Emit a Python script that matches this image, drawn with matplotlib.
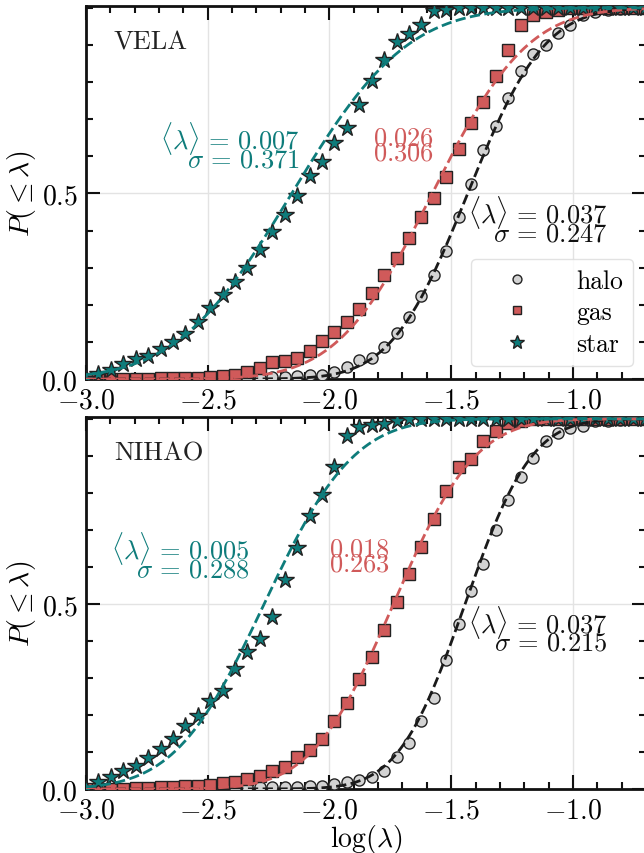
import math
import numpy as np
import matplotlib
matplotlib.use('Agg')
import matplotlib.pyplot as plt
from matplotlib.ticker import MultipleLocator

plt.rcParams['font.family'] = 'serif'
plt.rcParams['font.serif'] = ['cmr10']
plt.rcParams['mathtext.fontset'] = 'cm'
plt.rcParams['axes.formatter.use_mathtext'] = True
plt.rcParams['axes.unicode_minus'] = True

# bins in log(lambda)
log_bins = np.linspace(-3.0, -0.5, 50)[:46]

# VELA cumulative fractions
vela_halo = [0.0] * 13 + [0.002, 0.003, 0.005, 0.006, 0.008, 0.010, 0.011, 0.018, 0.032,
             0.051, 0.058, 0.087, 0.123, 0.166, 0.225, 0.281, 0.346, 0.436, 0.526,
             0.616, 0.681, 0.757, 0.829, 0.877, 0.901, 0.933, 0.955, 0.980, 0.990,
             0.995, 0.997, 1.0, 1.0]
vela_gas = [0.0] * 6 + [0.002, 0.002, 0.004, 0.004, 0.006, 0.009, 0.011, 0.020, 0.029,
            0.045, 0.049, 0.056, 0.076, 0.103, 0.128, 0.155, 0.189, 0.231, 0.279,
            0.326, 0.380, 0.436, 0.488, 0.544, 0.619, 0.690, 0.746, 0.816, 0.888,
            0.953, 0.982, 0.990, 0.995] + [1.0] * 7
vela_star = [0.0, 0.013, 0.025, 0.040, 0.054, 0.063, 0.081, 0.101, 0.121, 0.153,
             0.191, 0.227, 0.262, 0.299, 0.349, 0.397, 0.442, 0.494, 0.548, 0.586,
             0.637, 0.676, 0.739, 0.802, 0.859, 0.908, 0.931, 0.953, 0.991, 0.995] + [1.0] * 16

# NIHAO cumulative fractions
nihao_halo = [0.0] * 13 + [0.004, 0.004, 0.004, 0.005, 0.005, 0.007, 0.009, 0.013, 0.020,
              0.025, 0.031, 0.049, 0.085, 0.125, 0.184, 0.246, 0.349, 0.445, 0.536,
              0.609, 0.699, 0.781, 0.842, 0.894, 0.939, 0.963, 0.975, 0.981, 0.993,
              0.995, 0.997, 1.0, 1.0]
nihao_gas = [0.0] * 4 + [0.002, 0.002, 0.004, 0.004, 0.007, 0.009, 0.012, 0.015, 0.018,
             0.027, 0.036, 0.049, 0.060, 0.085, 0.106, 0.136, 0.184, 0.233, 0.296,
             0.357, 0.430, 0.506, 0.581, 0.654, 0.730, 0.806, 0.869, 0.892, 0.939,
             0.966, 0.990, 0.995] + [1.0] * 10
nihao_star = [0.0, 0.018, 0.033, 0.049, 0.063, 0.083, 0.108, 0.134, 0.170, 0.197,
              0.237, 0.264, 0.324, 0.370, 0.405, 0.464, 0.565, 0.651, 0.737, 0.793,
              0.869, 0.954, 0.977, 0.984, 0.986, 0.993] + [1.0] * 20

# lognormal fits: quoted <lambda> and sigma, plus the fitted centre in log(lambda)
vela_mean = {'halo': 0.037, 'gas': 0.026, 'star': 0.007}
vela_sig = {'halo': 0.247, 'gas': 0.306, 'star': 0.371}
vela_mu = {'halo': -1.432, 'gas': -1.578, 'star': -2.155}
nihao_mean = {'halo': 0.037, 'gas': 0.018, 'star': 0.005}
nihao_sig = {'halo': 0.215, 'gas': 0.263, 'star': 0.288}
nihao_mu = {'halo': -1.443, 'gas': -1.737, 'star': -2.268}

teal = '#0e7c7b'
red = '#d05a5a'
styles = {
    'halo': dict(marker='o', mfc='#d3d3d3', ms=8, line='#1a1a1a'),
    'gas': dict(marker='s', mfc=red, ms=8, line=red),
    'star': dict(marker='*', mfc=teal, ms=13, line=teal),
}


def lognormal_cdf(x, mu, sig):
    return [0.5 * (1 + math.erf((xi - mu) / (sig * math.sqrt(2)))) for xi in x]


fig = plt.figure(figsize=(6.44, 8.54), dpi=100)
ax1 = fig.add_axes([0.1335, 0.555, 0.8695, 0.4367])
ax2 = fig.add_axes([0.1335, 0.075, 0.8695, 0.4355])

xfit = np.linspace(-3.0, -0.5, 400)

panels = [
    (ax1, 'VELA', {'halo': vela_halo, 'gas': vela_gas, 'star': vela_star}, vela_mean, vela_sig, vela_mu,
     {'star': (-2.121, 0.63), 'gas': (-1.570, 0.63), 'halo': (-0.859, 0.43)}),
    (ax2, 'NIHAO', {'halo': nihao_halo, 'gas': nihao_gas, 'star': nihao_star}, nihao_mean, nihao_sig, nihao_mu,
     {'star': (-2.330, 0.632), 'gas': (-1.751, 0.63), 'halo': (-0.859, 0.433)}),
]

for ax, name, data, means, sigs, mus, tpos in panels:
    for comp in ['halo', 'gas', 'star']:
        st = styles[comp]
        ax.plot(log_bins, data[comp], ls='none', marker=st['marker'], mfc=st['mfc'],
                mec='#222222', mew=1.0, ms=st['ms'], label=comp, zorder=3)
    for comp in ['halo', 'gas', 'star']:
        ax.plot(xfit, lognormal_cdf(xfit, mus[comp], sigs[comp]), ls='--',
                color=styles[comp]['line'], lw=2.0, zorder=4)

    # fit labels
    x, y = tpos['star']
    ax.text(x, y, r'$\langle\lambda\rangle\,=\,%.3f$' % means['star'] + '\n' + r'$\sigma\,=\,%.3f$' % sigs['star'],
            color=teal, fontsize=19, ha='right', va='center', ma='right', linespacing=0.55)
    x, y = tpos['gas']
    ax.text(x, y, r'$%.3f$' % means['gas'] + '\n' + r'$%.3f$' % sigs['gas'],
            color=red, fontsize=19, ha='right', va='center', ma='right', linespacing=0.55)
    x, y = tpos['halo']
    ax.text(x, y, r'$\langle\lambda\rangle\,=\,%.3f$' % means['halo'] + '\n' + r'$\sigma\,=\,%.3f$' % sigs['halo'],
            color='#111111', fontsize=19, ha='right', va='center', ma='right', linespacing=0.55)

    ax.text(0.05, 0.905, name, transform=ax.transAxes, fontsize=19, va='center', ha='left', color='#222222')

    ax.set_xlim(-3.0, -0.7)
    ax.set_ylim(0, 1.005)
    ax.set_yticks([0.0, 0.5])
    ax.xaxis.set_major_locator(MultipleLocator(0.5))
    ax.xaxis.set_minor_locator(MultipleLocator(0.1))
    ax.yaxis.set_minor_locator(MultipleLocator(0.1))
    ax.tick_params(which='both', direction='in', top=True, right=True, labelsize=20, width=1.5, color='#111111')
    ax.tick_params(which='major', length=10, pad=6)
    ax.tick_params(which='minor', length=5)
    ax.grid(True, which='major', color='#e3e3e3', lw=1.0, zorder=0)
    ax.set_axisbelow(True)
    for sp in ax.spines.values():
        sp.set_linewidth(2.0)
        sp.set_color('#111111')
    ax.set_ylabel(r'$P(\leq\lambda)$', fontsize=20, labelpad=2)

leg = ax1.legend(loc='lower right', fontsize=18.5, handlelength=2.8, handletextpad=0.9,
                 labelspacing=0.3, markerscale=0.8, borderaxespad=0.5, framealpha=0.85, fancybox=True)
leg.get_frame().set_edgecolor('#dddddd')

ax2.set_xlabel(r'$\log(\lambda)$', fontsize=20, labelpad=-1.5)

fig.savefig('out.png', dpi=100)
